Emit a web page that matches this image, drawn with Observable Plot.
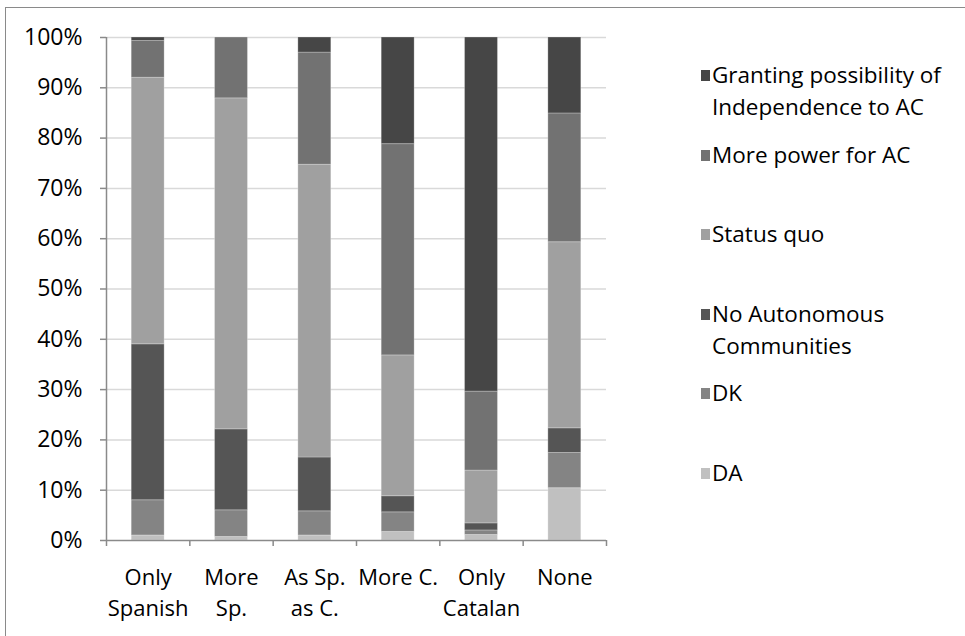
<!DOCTYPE html>
<html>
<head>
<meta charset="utf-8">
<script src="https://cdn.jsdelivr.net/npm/d3@7"></script>
<script src="https://cdn.jsdelivr.net/npm/@observablehq/plot@0.6"></script>
<style>
  html, body { margin: 0; padding: 0; background: #fff; overflow: hidden; }
  body { width: 965px; height: 636px; position: relative; font-family: "Open Sans", sans-serif; }
  #frame { position: absolute; left: 5px; top: 7px; width: 980px; height: 660px; border: 1.5px solid #8a8a8a; box-sizing: border-box; }
  #chart { position: absolute; left: 0; top: 0; }
  #legend { position: absolute; left: 701px; top: 59px; }
  .item { position: relative; height: 79.6px; }
  .swatch { position: absolute; left: 0; top: 11px; width: 9px; height: 11px; }
  .label { position: absolute; left: 11px; top: 0; font-size: 22.5px; line-height: 32px; color: #000; white-space: pre; }
</style>
</head>
<body>
<div id="frame"></div>
<div id="chart"></div>
<div id="legend"></div>
<script>
// Preferred future for the autonomous communities, by national identity (percent of respondents)
const categories = ["Only\nSpanish", "More\nSp.", "As Sp.\nas C.", "More C.", "Only\nCatalan", "None"];

// Series, listed bottom of the stack first
const series = [
  "DA",
  "DK",
  "No Autonomous\nCommunities",
  "Status quo",
  "More power for AC",
  "Granting possibility of\nIndependence to AC"
];
const colors = ["#c0c0c0", "#848484", "#555555", "#a0a0a0", "#727272", "#464646"];

const daValues     = [1.0, 0.7, 1.0, 1.7, 1.1, 10.4];
const dkValues     = [7.0, 5.3, 4.8, 3.9, 0.9, 7.0];
const noAcValues   = [31.0, 16.1, 10.7, 3.2, 1.4, 4.9];
const statusValues = [53.0, 65.8, 58.2, 28.0, 10.5, 37.0];
const powerValues  = [7.3, 12.1, 22.3, 42.0, 15.7, 25.6];
const indepValues  = [0.7, 0.0, 3.0, 21.2, 70.4, 15.1];

const yTicks = [0, 10, 20, 30, 40, 50, 60, 70, 80, 90, 100];

const seriesValues = [daValues, dkValues, noAcValues, statusValues, powerValues, indepValues];

// Long table: one row per category and series, in stacking order
const rows = [];
series.forEach((s, si) => {
  categories.forEach((c, ci) => {
    rows.push({index: ci, category: c, series: s, value: seriesValues[si][ci]});
  });
});

const axisGray = "#8a8a8a";
const font = "Open Sans, sans-serif";

const chart = Plot.plot({
  width: 700,
  height: 636,
  marginLeft: 106,
  marginRight: 94,
  marginTop: 37,
  marginBottom: 96,
  style: {fontFamily: font, fontSize: "22px", color: "#000", background: "transparent"},
  x: {domain: [0, categories.length], axis: null},
  y: {domain: [0, 100], axis: null},
  color: {domain: series, range: colors},
  marks: [
    // horizontal gridlines
    Plot.ruleY(yTicks.filter(d => d > 0), {stroke: "#d9d9d9", strokeWidth: 1.5}),
    // stacked bars
    Plot.rectY(rows, Plot.stackY({
      x1: "index",
      x2: d => d.index + 1,
      y: "value",
      fill: "series",
      insetLeft: 25.2,
      insetRight: 25.2,
      stroke: "#ffffff",
      strokeOpacity: 0.25,
      strokeWidth: 1
    })),
    // y axis: ticks and percent labels
    Plot.axisY({
      ticks: yTicks,
      tickSize: 6,
      tickPadding: 18,
      stroke: axisGray,
      strokeWidth: 1.5,
      fontSize: 23,
      fill: "#000",
      tickFormat: d => d + "%",
      label: null
    }),
    Plot.ruleX([0], {stroke: axisGray, strokeWidth: 1.5}),
    // x axis: boundary ticks between categories
    Plot.ruleY([0], {stroke: axisGray, strokeWidth: 1.5}),
    Plot.axisX({
      ticks: d3.range(categories.length + 1),
      tickSize: 6,
      stroke: axisGray,
      strokeWidth: 1.5,
      tickFormat: () => "",
      label: null
    }),
    // x axis: category labels centred in each band
    Plot.axisX({
      ticks: categories.map((c, i) => i + 0.5),
      tickSize: 0,
      tickPadding: 22,
      fontSize: 22,
      lineHeight: 1.42,
      fill: "#000",
      tickFormat: d => categories[Math.floor(d)],
      label: null
    })
  ]
});
document.getElementById("chart").appendChild(chart);

// Legend, top entry first
const legend = document.getElementById("legend");
series.map((s, i) => ({s, c: colors[i]})).reverse().forEach(({s, c}) => {
  const item = document.createElement("div");
  item.className = "item";
  const sw = document.createElement("div");
  sw.className = "swatch";
  sw.style.background = c;
  const lab = document.createElement("div");
  lab.className = "label";
  lab.textContent = s;
  item.appendChild(sw);
  item.appendChild(lab);
  legend.appendChild(item);
});
</script>
</body>
</html>
